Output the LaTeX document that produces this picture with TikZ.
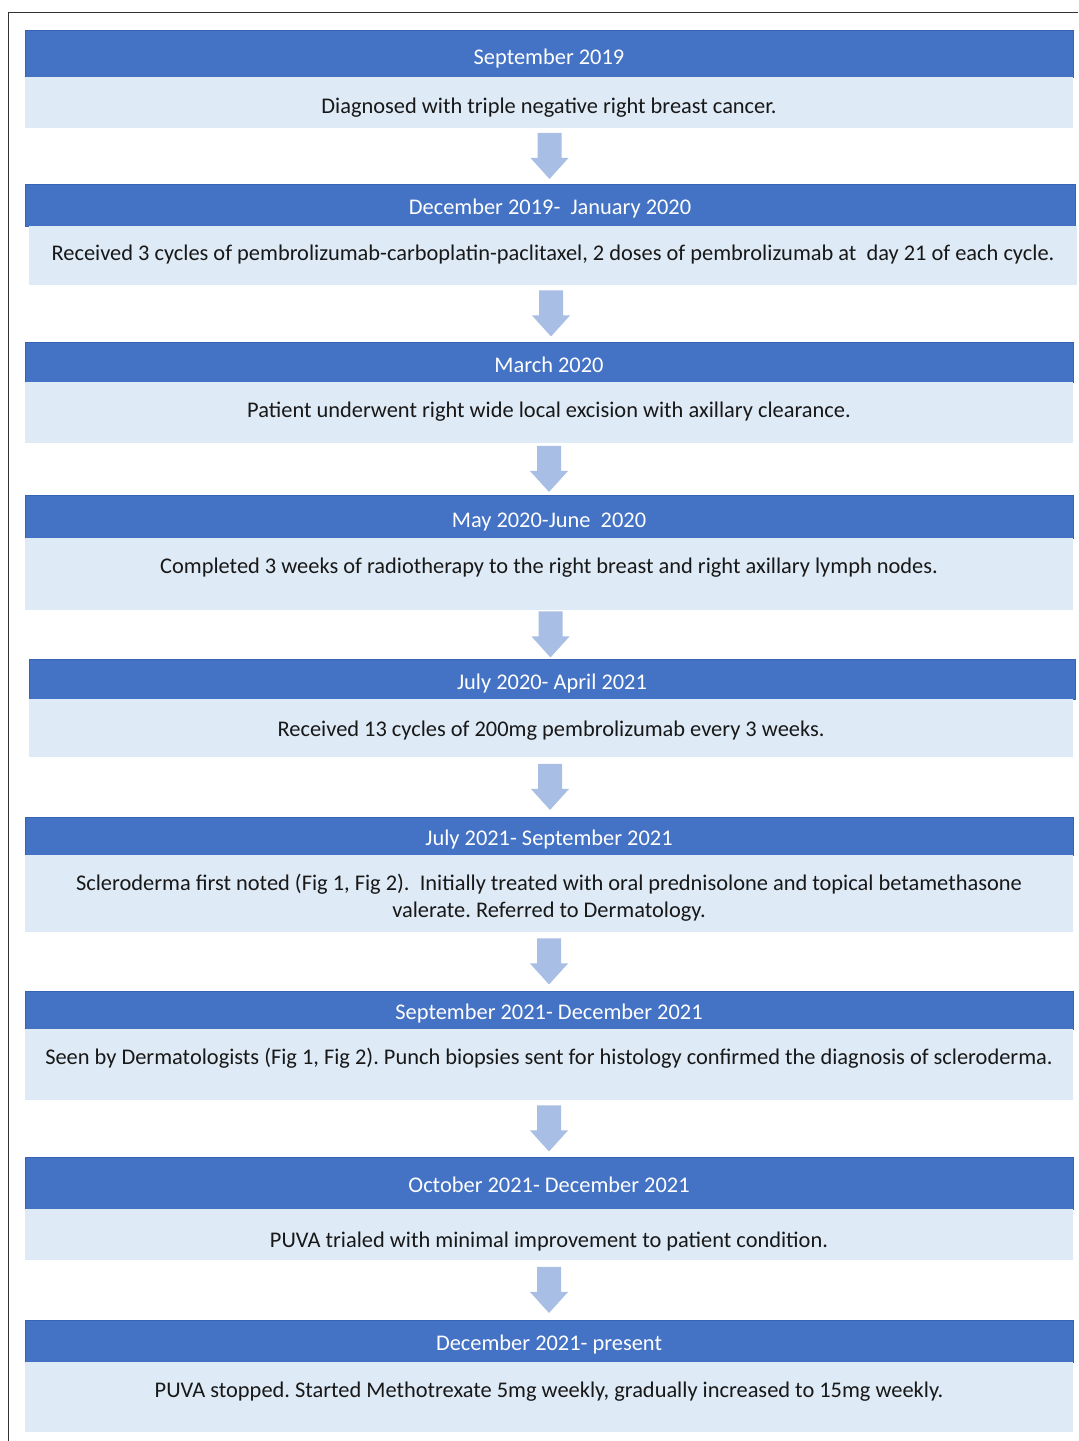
\documentclass[tikz,border=0pt]{standalone}
\usepackage{fontspec}
\setmainfont{Carlito}
\frenchspacing
\usetikzlibrary{calc,fit}
\definecolor{hdr}{RGB}{68,114,196}
\definecolor{hdredge}{RGB}{56,98,180}
\definecolor{bdy}{RGB}{222,234,246}
\definecolor{arr}{RGB}{168,190,228}
\definecolor{txt}{RGB}{24,24,24}
\definecolor{frame}{RGB}{50,50,50}
\newcommand\flowarrow[2]{%
  \path ($(#1.south)!0.5!(#2.north)$) coordinate (m-#1);
  \fill[arr] ($(m-#1)+(-12,-23)$) -- ($(m-#1)+(12,-23)$) -- ($(m-#1)+(12,2)$)
    -- ($(m-#1)+(19,2)$) -- ($(m-#1)+(0,23)$) -- ($(m-#1)+(-19,2)$)
    -- ($(m-#1)+(-12,2)$) -- cycle;}
\begin{document}
\begin{tikzpicture}[x=0.75pt,y=-0.75pt,
  hbox/.style={fill=hdr, draw=hdredge, line width=0.5pt, inner sep=0},
  bbox/.style={fill=bdy, inner sep=0},
  htext/.style={text=white, font=\fontsize{16.8}{20.25}\selectfont, inner sep=0,
    text height=0.75em, text depth=0.25em},
  btext/.style={text=txt, font=\fontsize{16.8}{20.25}\selectfont, inner sep=0,
    text height=0.75em, text depth=0.25em, align=center},
  btexttwo/.style={text=txt, font=\fontsize{16.8}{20.25}\selectfont, inner sep=0, align=center}]
\useasboundingbox (0,0) rectangle (1078,1441);
\draw[frame, line width=1.1pt] (1078,12.5) -- (8.5,12.5) -- (8.5,1441);

% stage 1
\node[hbox, fit={(25,30) (1073,77)}] (h1) {};
\node[bbox, fit={(25,77) (1073,128)}] (b1) {};
\node[htext] (ht1) at ($(h1.center)+(0,7.5)$) {September 2019};
\node[btext] (bt1) at ($(b1.north)+(0,33)$) {Diagnosed with triple negative right breast cancer.};
% stage 2
\node[hbox, fit={(25,184) (1075,226)}] (h2) {};
\node[bbox, fit={(29,226) (1077,285)}] (b2) {};
\node[htext] (ht2) at ($(h2.center)+(0,6.5)$) {December 2019-~ January 2020};
\node[btext] (bt2) at ($(b2.north)+(0,31.5)$) {Received 3 cycles of pembrolizumab-carboplatin-paclitaxel, 2 doses of pembrolizumab at~ day 21 of each cycle.};
% stage 3
\node[hbox, fit={(25,342) (1073,382)}] (h3) {};
\node[bbox, fit={(25,382) (1073,443)}] (b3) {};
\node[htext] (ht3) at ($(h3.center)+(0,7.5)$) {March 2020};
\node[btext] (bt3) at ($(b3.north)+(0,32.5)$) {Patient underwent right wide local excision with axillary clearance.};
% stage 4
\node[hbox, fit={(25,495) (1073,538)}] (h4) {};
\node[bbox, fit={(25,538) (1073,610)}] (b4) {};
\node[htext] (ht4) at ($(h4.center)+(0,7.5)$) {May 2020-June~ 2020};
\node[btext] (bt4) at ($(b4.north)+(0,32.5)$) {Completed 3 weeks of radiotherapy to the right breast and right axillary lymph nodes.};
% stage 5
\node[hbox, fit={(29,659) (1075,699)}] (h5) {};
\node[bbox, fit={(29,699) (1073,757)}] (b5) {};
\node[htext] (ht5) at ($(h5.center)+(0,7.5)$) {July 2020- April 2021};
\node[btext] (bt5) at ($(b5.north)+(0,34)$) {Received 13 cycles of 200mg pembrolizumab every 3 weeks.};
% stage 6
\node[hbox, fit={(25,817) (1073,855)}] (h6) {};
\node[bbox, fit={(25,855) (1073,932)}] (b6) {};
\node[htext] (ht6) at ($(h6.center)+(0,6.5)$) {July 2021- September 2021};
\node[btexttwo] (bt6) at ($(b6.north)+(0,43)$) {Scleroderma first noted (Fig 1, Fig 2).~ Initially treated with oral prednisolone and topical betamethasone\\ valerate. Referred to Dermatology.};
% stage 7
\node[hbox, fit={(25,991) (1073,1029)}] (h7) {};
\node[bbox, fit={(25,1029) (1073,1100)}] (b7) {};
\node[htext] (ht7) at ($(h7.center)+(0,6.5)$) {September 2021- December 2021};
\node[btext] (bt7) at ($(b7.north)+(0,32.5)$) {Seen by Dermatologists (Fig 1, Fig 2). Punch biopsies sent for histology confirmed the diagnosis of scleroderma.};
% stage 8
\node[hbox, fit={(25,1157) (1073,1209)}] (h8) {};
\node[bbox, fit={(25,1209) (1073,1260)}] (b8) {};
\node[htext] (ht8) at ($(h8.center)+(0,6)$) {October 2021- December 2021};
\node[btext] (bt8) at ($(b8.north)+(0,35)$) {PUVA trialed with minimal improvement to patient condition.};
% stage 9
\node[hbox, fit={(25,1320) (1073,1362)}] (h9) {};
\node[bbox, fit={(25,1362) (1073,1432)}] (b9) {};
\node[htext] (ht9) at ($(h9.center)+(0,6)$) {December 2021- present};
\node[btext] (bt9) at ($(b9.north)+(0,32.5)$) {PUVA stopped. Started Methotrexate 5mg weekly, gradually increased to 15mg weekly.};

\flowarrow{b1}{h2}
\flowarrow{b2}{h3}
\flowarrow{b3}{h4}
\flowarrow{b4}{h5}
\flowarrow{b5}{h6}
\flowarrow{b6}{h7}
\flowarrow{b7}{h8}
\flowarrow{b8}{h9}
\end{tikzpicture}
\end{document}
